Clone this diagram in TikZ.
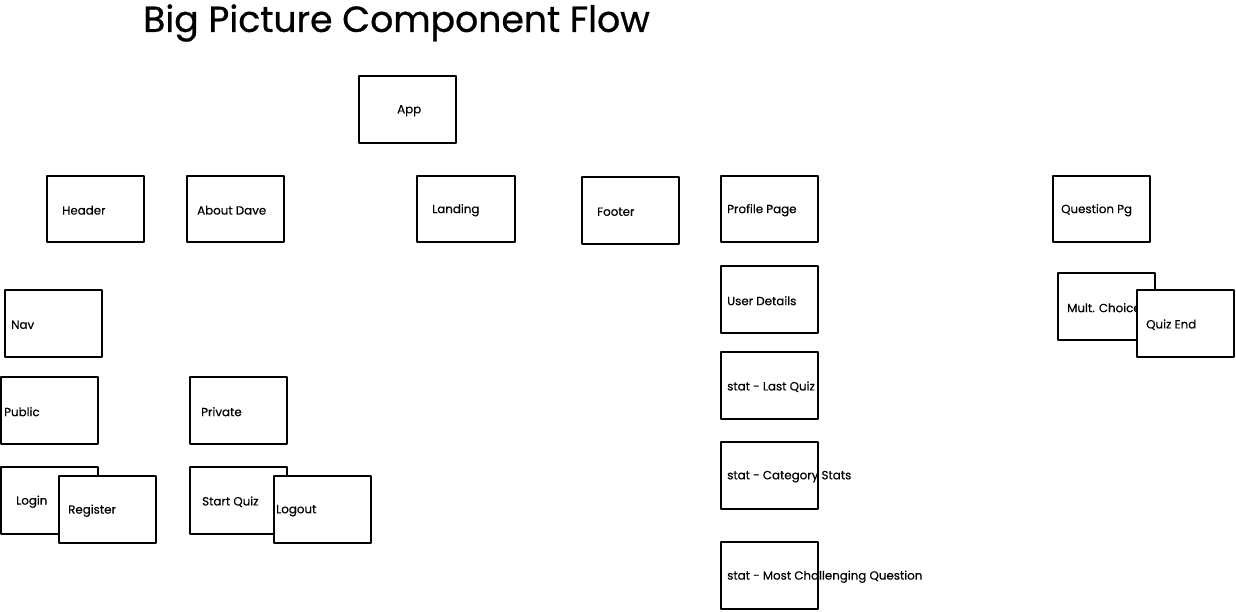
\documentclass[tikz,border=0pt]{standalone}
\usepackage{fontspec}
\setmainfont[FakeBold=0.4]{Poppins}
\newfontfamily\titlefont[FakeBold=0.7]{Poppins}
\begin{document}
\begin{tikzpicture}[x=1pt,y=-1pt,
  boxbg/.style={fill=white,draw=none,inner sep=0pt,anchor=north west},
  boxline/.style={draw=black,line width=1.9pt,line join=round},
  lbl/.style={anchor=west,inner sep=0pt,font=\fontsize{11.85}{13}\selectfont},
  ttl/.style={anchor=west,inner sep=0pt,font=\titlefont\fontsize{36.2}{40}\selectfont}]
\useasboundingbox[fill=white] (0,0) rectangle (1236,611);
\newcommand{\skbox}[7]{%
  \node[boxbg,minimum width=#4,minimum height=#5] (#1) at (#2,#3) {};
  \node[lbl] (#1-t) at ([xshift=#6,yshift=-1]#1.west) {#7};
  \draw[boxline] (#1.north west) rectangle (#1.south east);}
\node[ttl] (title) at (143,23) {Big Picture Component Flow};
\skbox{app}{359}{76}{97}{67}{38}{App}
\skbox{header}{47}{176}{97}{66}{15}{Header}
\skbox{about}{187}{176}{97}{66}{10}{About Dave}
\skbox{landing}{417}{176}{98}{66}{15}{Landing}
\skbox{footer}{582}{177}{97}{67}{15}{Footer}
\skbox{profile}{721}{176}{97}{66}{6}{Profile Page}
\skbox{question}{1053}{176}{97}{66}{8}{Question Pg}
\skbox{nav}{5}{290}{97}{67}{6}{Nav}
\skbox{public}{1}{377}{97}{67}{3}{Public}
\skbox{private}{190}{377}{97}{67}{11}{Private}
\skbox{login}{1}{467}{97}{67}{15}{Login}
\skbox{register}{59}{476}{97}{67}{9}{Register}
\skbox{startquiz}{190}{467}{97}{67}{12}{Start Quiz}
\skbox{logout}{274}{476}{97}{67}{2}{Logout}
\skbox{userdetails}{721}{266}{97}{67}{6}{User Details}
\skbox{lastquiz}{721}{352}{97}{67}{6}{stat - Last Quiz}
\skbox{category}{721}{442}{97}{67}{6}{stat - Category Stats}
\skbox{challenging}{721}{542}{97}{67}{6}{stat - Most Challenging Question}
\skbox{multchoice}{1058}{273}{97}{67}{9}{Mult. Choice}
\skbox{quizend}{1137}{290}{97}{67}{9}{Quiz End}
\end{tikzpicture}
\end{document}
